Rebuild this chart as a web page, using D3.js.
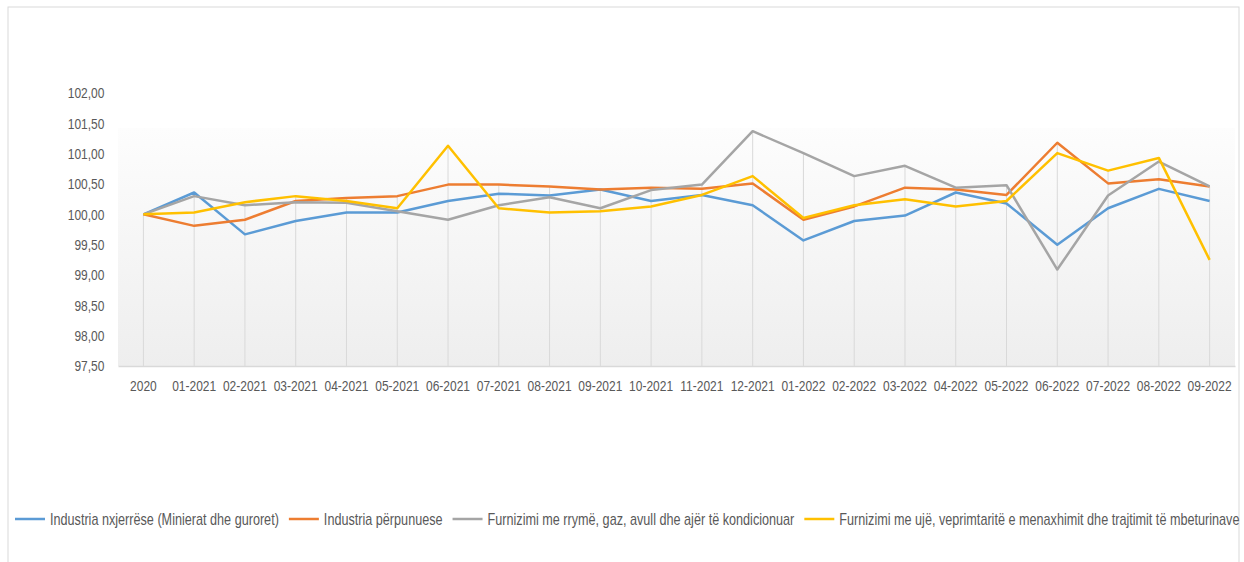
<!DOCTYPE html>
<html>
<head>
<meta charset="utf-8">
<script src="https://cdn.jsdelivr.net/npm/d3@7"></script>
<style>
  body { margin: 0; background: #fff; }
  text { font-family: "Liberation Sans", Arial, sans-serif; fill: #595959; }
</style>
</head>
<body>
<svg id="chart"></svg>
<script>
const categories = ["2020", "01-2021", "02-2021", "03-2021", "04-2021", "05-2021", "06-2021",
  "07-2021", "08-2021", "09-2021", "10-2021", "11-2021", "12-2021", "01-2022", "02-2022",
  "03-2022", "04-2022", "05-2022", "06-2022", "07-2022", "08-2022", "09-2022"];

const mining = [100.00, 100.36, 99.67, 99.89, 100.03, 100.03, 100.22, 100.34, 100.31, 100.41, 100.22,
  100.32, 100.15, 99.57, 99.89, 99.98, 100.36, 100.18, 99.50, 100.10, 100.42, 100.22];
const manufacturing = [100.00, 99.81, 99.91, 100.22, 100.27, 100.30, 100.49, 100.49, 100.46, 100.41, 100.44,
  100.42, 100.51, 99.91, 100.13, 100.44, 100.41, 100.32, 101.18, 100.51, 100.58, 100.46];
const electricity = [100.00, 100.30, 100.15, 100.20, 100.19, 100.05, 99.91, 100.15, 100.28, 100.10, 100.40,
  100.49, 101.37, 101.01, 100.63, 100.80, 100.44, 100.48, 99.09, 100.31, 100.87, 100.46];
const water = [100.00, 100.03, 100.20, 100.30, 100.22, 100.10, 101.13, 100.10, 100.03, 100.05, 100.13,
  100.32, 100.63, 99.94, 100.15, 100.25, 100.13, 100.22, 101.01, 100.72, 100.93, 99.25];

const seriesNames = [
  "Industria nxjerrëse (Minierat dhe guroret)",
  "Industria përpunuese",
  "Furnizimi me rrymë, gaz, avull dhe ajër të kondicionuar",
  "Furnizimi me ujë, veprimtaritë e menaxhimit dhe trajtimit të mbeturinave"
];
const seriesColors = ["#5B9BD5", "#ED7D31", "#A5A5A5", "#FFC000"];
const yTicks = [97.5, 98, 98.5, 99, 99.5, 100, 100.5, 101, 101.5, 102];

const width = 1244, height = 562;
const plot = { left: 118, right: 1235, top: 93, bottom: 366 };
const squeeze = 0.8;

const series = [mining, manufacturing, electricity, water].map((vals, i) => ({
  name: seriesNames[i], color: seriesColors[i], values: vals
}));

const svg = d3.select("#chart").attr("width", width).attr("height", height);

// outer border
svg.append("rect")
  .attr("x", 8).attr("y", 7).attr("width", 1231).attr("height", 600)
  .attr("fill", "#fff").attr("stroke", "#d9d9d9");

const defs = svg.append("defs");
const grad = defs.append("linearGradient").attr("id", "bg")
  .attr("x1", 0).attr("y1", 0).attr("x2", 0).attr("y2", 1);
grad.append("stop").attr("offset", "0%").attr("stop-color", "#fdfdfd");
grad.append("stop").attr("offset", "100%").attr("stop-color", "#eeeeee");

const x = d3.scaleBand().domain(categories).range([plot.left, plot.right]);
const y = d3.scaleLinear().domain([97.5, 102]).range([plot.bottom, plot.top]);

svg.append("rect")
  .attr("x", plot.left).attr("y", 128)
  .attr("width", plot.right - plot.left).attr("height", plot.bottom - 128)
  .attr("fill", "url(#bg)");

const cx = c => x(c) + x.bandwidth() / 2;

// drop lines
svg.append("g").selectAll("line")
  .data(categories)
  .enter().append("line")
  .attr("x1", d => cx(d)).attr("x2", d => cx(d))
  .attr("y1", (d, i) => y(d3.max(series, s => s.values[i])))
  .attr("y2", plot.bottom)
  .attr("stroke", "#d9d9d9").attr("stroke-width", 1);

// x axis
const xAxis = svg.append("g")
  .attr("transform", `translate(0,${plot.bottom})`)
  .call(d3.axisBottom(x).tickSize(0).tickPadding(14));
xAxis.select(".domain").attr("stroke", "#d9d9d9").attr("stroke-width", 1.5);
xAxis.selectAll("text")
  .attr("font-size", 15)
  .attr("fill", "#505050")
  .attr("transform", `scale(${squeeze},1)`)
  .style("font-family", "Liberation Sans, Arial, sans-serif");

// y axis
const fmt = d3.format(".2f");
const yAxis = svg.append("g")
  .attr("transform", `translate(${plot.left},0)`)
  .call(d3.axisLeft(y).tickValues(yTicks).tickSize(0).tickPadding(17)
    .tickFormat(d => fmt(d).replace(".", ",")));
yAxis.select(".domain").remove();
yAxis.selectAll("text")
  .attr("font-size", 15)
  .attr("fill", "#505050")
  .attr("transform", `scale(${squeeze},1)`)
  .style("font-family", "Liberation Sans, Arial, sans-serif");

// lines
const line = d3.line()
  .x((d, i) => cx(categories[i]))
  .y(d => y(d));

svg.append("g").selectAll("path")
  .data(series)
  .enter().append("path")
  .attr("d", d => line(d.values))
  .attr("fill", "none")
  .attr("stroke", d => d.color)
  .attr("stroke-width", 2.5)
  .attr("stroke-linejoin", "round");

// legend
const legend = svg.append("g")
  .attr("transform", `translate(0,519) scale(${squeeze},1)`);
let lx = 15 / squeeze;
series.forEach(s => {
  legend.append("line")
    .attr("x1", lx).attr("x2", lx + 30 / squeeze)
    .attr("y1", 0).attr("y2", 0)
    .attr("stroke", s.color).attr("stroke-width", 2.5);
  const t = legend.append("text")
    .attr("x", lx + 35 / squeeze).attr("y", 0).attr("dy", "0.35em")
    .attr("font-size", 15.8)
    .attr("fill", "#505050")
    .text(s.name);
  lx += 35 / squeeze + t.node().getComputedTextLength() + 10 / squeeze;
});
</script>
</body>
</html>
